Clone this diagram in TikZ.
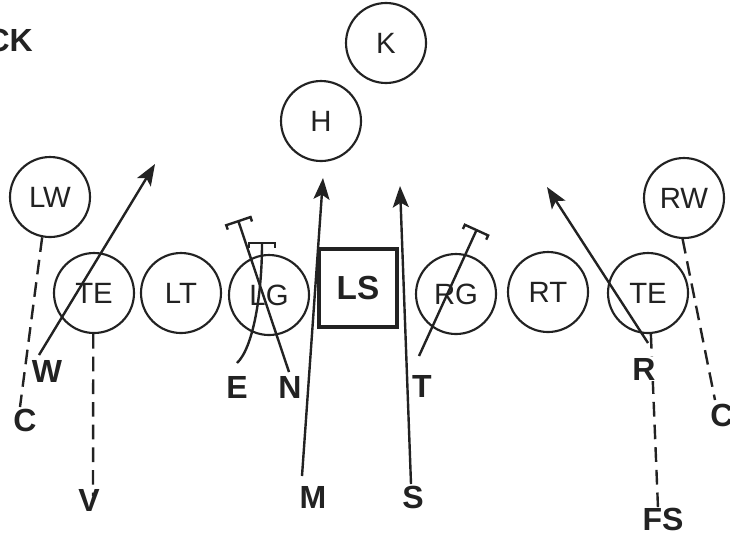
\documentclass[tikz,border=0pt]{standalone}
\usepackage{fontspec}
\setmainfont{Liberation Sans}
\usetikzlibrary{arrows.meta}
\definecolor{ink}{HTML}{222222}
\tikzset{
  player/.style={circle, draw=ink, line width=1.6pt, minimum size=60pt, inner sep=0pt, text=ink, font=\fontsize{22}{26}\selectfont},
  center/.style={rectangle, draw=ink, line width=2.8pt, minimum size=59pt, inner sep=0pt, text=ink, font=\bfseries\fontsize{25}{29}\selectfont},
  lbl/.style={inner sep=0pt, text=ink, font=\bfseries\fontsize{24}{28}\selectfont},
  route/.style={draw=ink, line width=1.8pt},
  arr/.style={route, -{Stealth[length=16pt,width=12pt,inset=3.5pt]}},
  blk/.style={route, -{Bracket[width=21pt,length=3.5pt]}},
  dsh/.style={route, dash pattern=on 11pt off 6pt}
}
\begin{document}
\begin{tikzpicture}[x=0.75pt,y=-0.75pt]
\useasboundingbox[fill=white] (0,0) rectangle (730,540);
% players
\node[player] (LW) at (50,197) {LW};
\node[player] (TEL) at (94,293) {TE};
\node[player] (LT) at (181,293) {LT};
\node[player] (LG) at (269,295) {LG};
\node[center] (LS) at (358,288) {LS};
\node[player] (RG) at (456,294) {RG};
\node[player] (RT) at (548,292) {RT};
\node[player] (TER) at (648,293) {TE};
\node[player] (RW) at (684,198) {RW};
\node[player] (H) at (321,121) {H};
\node[player] (K) at (386,43) {K};
% labels
\node[lbl, anchor=east] (lCK) at (33,40) {CK};
\node[lbl] (lW) at (47,371) {W};
\node[lbl] (lC1) at (25,420) {C};
\node[lbl] (lV) at (89,500) {V};
\node[lbl] (lE) at (237,387) {E};
\node[lbl] (lN) at (290,387) {N};
\node[lbl] (lT) at (422,386) {T};
\node[lbl] (lM) at (313,497) {M};
\node[lbl] (lS) at (413,497) {S};
\node[lbl] (lC2) at (722,415) {C};
\node[lbl] (lFS) at (663,519) {FS};
% route coordinates
\coordinate (wS) at (39,355);
\coordinate (wT) at (155,164);
\coordinate (mS) at (302,476);
\coordinate (mT) at (323,178);
\coordinate (sS) at (411,484);
\coordinate (sT) at (400,186);
\coordinate (rS) at (648,343);
\coordinate (rT) at (547,187);
\coordinate (nS) at (289,372);
\coordinate (nB) at (238,220);
\coordinate (eS) at (237,363);
\coordinate (eB) at (262,242);
\coordinate (tS) at (419,356);
\coordinate (tB) at (477,229);
\coordinate (c1E) at (20,407);
\coordinate (c2E) at (715,400);
\coordinate (vE) at (93,496);
\coordinate (fsE) at (658,508);
% dashed routes
\draw[dsh] (LW.-101) -- (c1E);
\draw[dsh] (TEL.-91) -- (vE);
\draw[dsh] (RW.-92) -- (c2E);
\draw[dsh] (TER.-86) -- (fsE);
\node[lbl, fill=white, inner sep=1pt] (lR) at (644,369) {R};
% solid routes
\draw[arr] (wS) -- (wT);
\draw[arr] (mS) -- (mT);
\draw[arr] (sS) -- (sT);
\draw[arr] (rS) -- (rT);
\draw[blk] (nS) -- (nB);
\draw[blk] (eS) .. controls (253,348) and (262,295) .. (eB);
\draw[blk] (tS) -- (tB);
\end{tikzpicture}
\end{document}
